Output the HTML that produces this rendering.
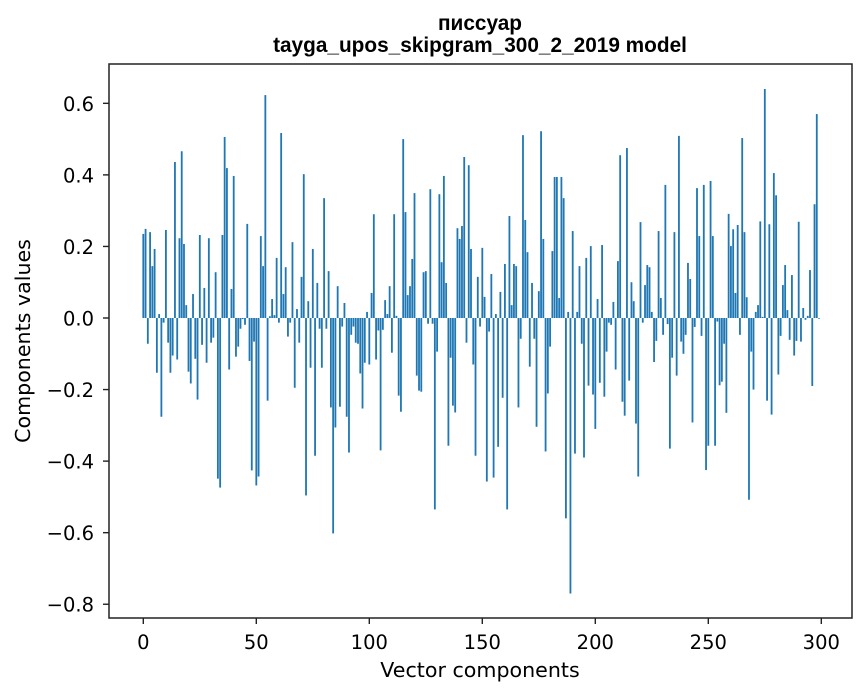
<!DOCTYPE html>
<html><head><meta charset="utf-8"><style>
body{margin:0;background:#fff;}
svg{display:block;font-family:"DejaVu Sans","Liberation Sans",sans-serif;}
</style></head><body>
<svg id="chart" width="867" height="696" viewBox="0 0 867 696" xmlns="http://www.w3.org/2000/svg">
<rect width="867" height="696" fill="#fff"/>
<text x="480" y="30" text-anchor="middle" font-size="20.8" font-weight="bold" font-family="Liberation Sans, sans-serif">писсуар</text>
<text x="480" y="52" text-anchor="middle" font-size="20.8" font-weight="bold" font-family="Liberation Sans, sans-serif">tayga_upos_skipgram_300_2_2019 model</text>
<g id="bars"></g>
<rect x="109" y="64" width="743" height="554" fill="none" stroke="#222" stroke-width="1.5"/>
<g id="xticks"></g>
<g id="yticks"></g>
<text x="480" y="677" text-anchor="middle" font-size="20.6">Vector components</text>
<text transform="translate(30,341) rotate(-90)" text-anchor="middle" font-size="20.6">Components values</text>
</svg>
<script>
const values = [
0.235,0.249,-0.072,0.24,0.145,0.193,-0.153,0.011,-0.276,-0.013,
0.246,-0.069,-0.153,-0.105,0.436,-0.116,0.223,0.466,0.207,0.036,
-0.15,-0.183,0.067,-0.114,-0.228,0.232,-0.075,0.084,-0.125,0.223,
-0.069,-0.055,0.128,-0.449,-0.474,0.232,0.506,0.419,-0.144,0.081,
0.397,-0.108,-0.08,-0.03,-0.003,-0.019,0.263,-0.12,-0.426,-0.066,
-0.468,-0.443,0.229,0.145,0.623,-0.231,0.005,0.053,0.008,0.168,
-0.013,0.517,0.067,0.142,-0.052,-0.013,0.212,-0.195,0.025,-0.069,
0.115,0.402,-0.496,0.047,-0.139,0.193,-0.385,0.098,-0.03,-0.139,
0.335,-0.03,0.131,-0.25,-0.602,-0.306,0.089,-0.248,-0.024,0.042,
-0.276,-0.376,-0.047,-0.024,-0.069,-0.072,-0.155,-0.253,-0.125,0.017,
-0.13,0.07,0.29,-0.116,-0.035,-0.37,-0.033,0.05,0.011,0.089,
-0.097,0.29,0.006,-0.217,-0.262,0.5,0.296,0.064,0.089,0.165,
0.349,-0.161,-0.203,-0.206,0.128,0.131,-0.016,0.36,-0.016,-0.535,
-0.094,0.346,0.156,0.397,0.098,-0.357,-0.111,-0.245,-0.264,0.251,
0.221,0.257,0.45,-0.069,0.427,0.193,-0.13,-0.385,0.115,-0.024,
0.196,0.059,-0.457,-0.038,0.123,-0.446,0.011,-0.36,0.073,-0.223,
0.151,-0.535,0.285,0.036,0.151,0.145,-0.25,-0.058,0.511,0.274,
0.184,-0.136,0.098,-0.058,-0.304,0.075,0.522,0.221,-0.373,-0.211,
-0.08,0.187,0.394,0.394,0.056,0.394,0.335,-0.56,0.017,-0.77,
0.243,-0.379,0.017,0.145,-0.072,-0.39,0.168,-0.189,0.201,-0.214,
-0.31,0.053,-0.181,0.204,-0.22,-0.094,-0.013,-0.019,0.045,-0.144,
0.159,0.455,-0.234,-0.273,0.475,-0.175,0.1,0.047,-0.295,-0.443,
0.268,-0.013,0.092,0.148,0.142,0.017,-0.123,-0.064,0.243,0.056,
-0.047,0.372,-0.017,-0.365,-0.111,0.24,-0.161,0.509,-0.066,-0.1,
-0.047,0.154,0.109,-0.292,-0.025,0.363,0.229,-0.05,0.372,-0.425,
-0.357,0.383,0.229,-0.357,-0.01,-0.188,-0.178,-0.072,-0.265,0.291,
0.201,0.248,0.07,0.26,-0.047,0.503,0.24,0.058,-0.508,-0.094,
-0.2,0.017,0.036,0.27,0.003,0.64,-0.231,0.262,-0.27,0.405,
0.343,-0.158,-0.05,0.092,0.148,0.022,-0.061,0.12,-0.105,-0.064,
0.269,-0.066,0.028,-0.005,0.006,0.134,-0.19,0.318,0.57,-0.002
];
const xTicks = [0,50,100,150,200,250,300];
const xTickLabels = ["0","50","100","150","200","250","300"];
const yTicks = [-0.8,-0.6,-0.4,-0.2,0.0,0.2,0.4,0.6];
const yTickLabels = ["\u22120.8","\u22120.6","\u22120.4","\u22120.2","0.0","0.2","0.4","0.6"];

const NS = "http://www.w3.org/2000/svg";
function xs(i){ return 143.3 + 2.26*i; }
function ys(v){ return 318 - v*357.8; }

const barsG = document.getElementById('bars');
values.forEach((v,i)=>{
  const r = document.createElementNS(NS,'rect');
  
  
  const y0 = ys(0), y1 = ys(v);
  r.setAttribute('x', xs(i) - 0.9);
  r.setAttribute('width', 1.81);
  r.setAttribute('y', Math.min(y0,y1));
  r.setAttribute('height', Math.max(Math.abs(y1-y0),0.3));
  r.setAttribute('fill', '#1f77b4');
  barsG.appendChild(r);
});

const xg = document.getElementById('xticks');
xTicks.forEach((t,k)=>{
  const l = document.createElementNS(NS,'line');
  
  
  l.setAttribute('x1', xs(t)); l.setAttribute('x2', xs(t));
  l.setAttribute('y1', 618); l.setAttribute('y2', 624);
  l.setAttribute('stroke', '#222');
  l.setAttribute('stroke-width', '1.4');
  xg.appendChild(l);
  const tx = document.createElementNS(NS,'text');
  
  
  tx.setAttribute('x', xs(t)); tx.setAttribute('y', 649);
  tx.setAttribute('text-anchor', 'middle');
  tx.setAttribute('font-size', '19.5');
  tx.textContent = xTickLabels[k];
  xg.appendChild(tx);
});

const yg = document.getElementById('yticks');
yTicks.forEach((t,k)=>{
  const l = document.createElementNS(NS,'line');
  
  
  l.setAttribute('x1', 103); l.setAttribute('x2', 109);
  l.setAttribute('y1', ys(t)); l.setAttribute('y2', ys(t));
  l.setAttribute('stroke', '#222');
  l.setAttribute('stroke-width', '1.4');
  yg.appendChild(l);
  const tx = document.createElementNS(NS,'text');
  
  
  tx.setAttribute('x', 94); tx.setAttribute('y', ys(t) + 7.5);
  tx.setAttribute('text-anchor', 'end');
  tx.setAttribute('font-size', '19.5');
  tx.textContent = yTickLabels[k];
  yg.appendChild(tx);
});
</script>
</body></html>
